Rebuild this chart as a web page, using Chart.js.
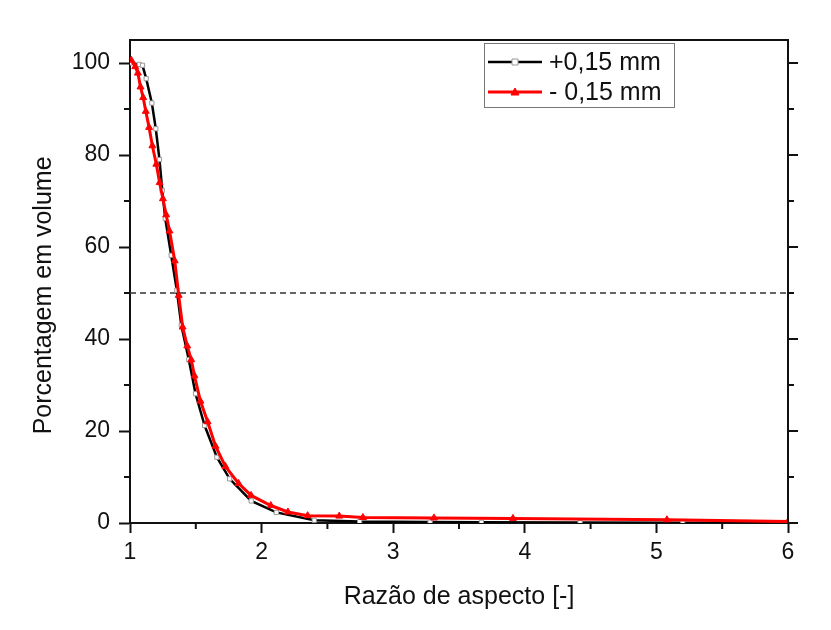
<!DOCTYPE html>
<html>
<head>
<meta charset="utf-8">
<script src="https://cdn.jsdelivr.net/npm/chart.js@4.4.0/dist/chart.umd.min.js"></script>
<style>
  body { margin: 0; background: #fff; }
  #wrap { width: 831px; height: 630px; position: relative; }
</style>
</head>
<body>
<div id="wrap"><canvas id="chart"></canvas></div>
<script>
// serie +0,15 mm (quadrados)
const plusX = [1.00, 1.07, 1.095, 1.123, 1.166, 1.196, 1.224, 1.245, 1.268, 1.313, 1.356, 1.39, 1.447, 1.498, 1.567, 1.66, 1.757, 1.921, 2.112, 2.40, 2.745, 3.28, 3.67, 4.42, 5.2, 6.0];
const plusY = [100, 99.7, 99.5, 96.6, 91.3, 85.7, 79.0, 72.3, 66.2, 58.2, 50.6, 43.0, 35.5, 28.1, 21.2, 14.3, 9.6, 4.8, 2.3, 0.6, 0.3, 0.2, 0.15, 0.1, 0.05, 0.0];

// serie - 0,15 mm (triangulos)
const minusX = [1.01, 1.04, 1.06, 1.08, 1.10, 1.12, 1.145, 1.17, 1.20, 1.225, 1.25, 1.275, 1.30, 1.34, 1.37, 1.40, 1.435, 1.465, 1.49, 1.535, 1.59, 1.65, 1.725, 1.825, 1.92, 2.07, 2.20, 2.35, 2.59, 2.77, 3.31, 3.91, 5.08, 6.0];
const minusY = [100.6, 99.2, 97.8, 94.8, 92.5, 89.5, 86, 82, 78, 74, 70.5, 67, 63.5, 57, 49.5, 42.6, 38.5, 35.5, 32, 26.5, 22, 16.7, 12.3, 8.6, 6.0, 3.8, 2.4, 1.6, 1.5, 1.2, 1.1, 1.0, 0.7, 0.3];

// linha de referencia (50 %)
const refX = [1, 6];
const refY = [50, 50];

const seriesLabels = ['+0,15 mm', '- 0,15 mm'];
const xTicks = [1, 2, 3, 4, 5, 6];
const yTicks = [0, 20, 40, 60, 80, 100];
const xMinor = [1.5, 2.5, 3.5, 4.5, 5.5];
const yMinor = [10, 30, 50, 70, 90];

const FONT = "'Liberation Sans', Arial, sans-serif";

function toPoints(xs, ys) {
    return xs.map((x, i) => ({ x: x, y: ys[i] }));
}

// moldura, ticks menores e legenda
const framePlugin = {
    id: 'frame',
    afterDatasetsDraw(chart) {
        const ctx = chart.ctx;
        const a = chart.chartArea;
        const xs = chart.scales.x;
        const ys = chart.scales.y;
        ctx.save();
        ctx.strokeStyle = '#111';
        ctx.lineWidth = 2;
        ctx.beginPath();
        ctx.moveTo(a.left, a.top);
        ctx.lineTo(a.right, a.top);
        ctx.lineTo(a.right, a.bottom);
        ctx.stroke();

        ctx.beginPath();
        // ticks do eixo direito
        yTicks.forEach(v => {
            const y = ys.getPixelForValue(v);
            ctx.moveTo(a.right, y);
            ctx.lineTo(a.right + 10, y);
        });
        yMinor.forEach(v => {
            const y = ys.getPixelForValue(v);
            ctx.moveTo(a.right, y);
            ctx.lineTo(a.right + 6, y);
            ctx.moveTo(a.left, y);
            ctx.lineTo(a.left - 6, y);
        });
        xMinor.forEach(v => {
            const x = xs.getPixelForValue(v);
            ctx.moveTo(x, a.bottom);
            ctx.lineTo(x, a.bottom + 6);
        });
        ctx.stroke();

        // legenda
        const bx = 484, by = 43, bw = 190, bh = 64;
        ctx.fillStyle = '#fff';
        ctx.fillRect(bx, by, bw, bh);
        ctx.strokeStyle = '#777';
        ctx.lineWidth = 1;
        ctx.strokeRect(bx + 0.5, by + 0.5, bw, bh);

        ctx.font = '25px ' + FONT;
        ctx.textBaseline = 'middle';
        ctx.textAlign = 'left';
        const rows = [62, 92];
        const ds = chart.data.datasets;
        [0, 1].forEach(i => {
            const d = ds.find(s => s.label === seriesLabels[i]);
            const y = rows[i];
            ctx.strokeStyle = d.borderColor;
            ctx.lineWidth = d.borderWidth;
            ctx.beginPath();
            ctx.moveTo(488, y);
            ctx.lineTo(542, y);
            ctx.stroke();
            ctx.fillStyle = d.pointBackgroundColor;
            ctx.strokeStyle = d.pointBorderColor;
            ctx.lineWidth = d.pointBorderWidth;
            ctx.beginPath();
            if (d.pointStyle === 'rect') {
                ctx.rect(515 - 3, y - 3, 6, 6);
            } else {
                ctx.moveTo(515, y - 4);
                ctx.lineTo(519, y + 3);
                ctx.lineTo(511, y + 3);
                ctx.closePath();
            }
            ctx.fill();
            ctx.stroke();
            ctx.fillStyle = '#111';
            ctx.fillText(seriesLabels[i], 549, y + 1);
        });
        ctx.restore();
    }
};

const ctx = document.getElementById('chart').getContext('2d');
const chart = new Chart(ctx, {
    type: 'line',
    data: {
        datasets: [
            {
                label: seriesLabels[1],
                data: toPoints(minusX, minusY),
                borderColor: '#f00',
                borderWidth: 3,
                pointStyle: 'triangle',
                pointRadius: 4,
                pointBackgroundColor: '#f00',
                pointBorderColor: '#f00',
                pointBorderWidth: 1,
                tension: 0,
                order: 0
            },
            {
                label: seriesLabels[0],
                data: toPoints(plusX, plusY),
                borderColor: '#000',
                borderWidth: 2.5,
                pointStyle: 'rect',
                pointRadius: 3,
                pointBackgroundColor: '#fff',
                pointBorderColor: '#999',
                pointBorderWidth: 1,
                tension: 0,
                order: 1
            },
            {
                label: 'ref',
                data: toPoints(refX, refY),
                borderColor: '#333',
                borderWidth: 1.5,
                borderDash: [6, 4],
                pointRadius: 0,
                order: 2
            }
        ]
    },
    options: {
        responsive: true,
        maintainAspectRatio: false,
        animation: false,
        layout: { padding: { top: 40, right: 43, left: 0, bottom: 0 } },
        plugins: {
            legend: { display: false },
            tooltip: { enabled: false }
        },
        scales: {
            x: {
                type: 'linear',
                min: 1,
                max: 6,
                afterFit: s => { s.height = 107; },
                afterBuildTicks: s => { s.ticks = xTicks.map(v => ({ value: v })); },
                grid: { drawOnChartArea: false, drawTicks: true, tickLength: 10, tickColor: '#111', tickWidth: 2 },
                border: { display: true, color: '#111', width: 2 },
                ticks: { color: '#111', padding: 6, maxRotation: 0, font: { family: FONT, size: 23 } },
                title: {
                    display: true,
                    text: 'Razão de aspecto [-]',
                    color: '#111',
                    padding: { top: 0, bottom: 18 },
                    font: { family: FONT, size: 25 }
                }
            },
            y: {
                min: 0,
                max: 105,
                afterFit: s => { s.width = 130; },
                afterBuildTicks: s => { s.ticks = yTicks.map(v => ({ value: v })); },
                grid: { drawOnChartArea: false, drawTicks: true, tickLength: 11, tickColor: '#111', tickWidth: 2 },
                border: { display: true, color: '#111', width: 2 },
                ticks: { color: '#111', padding: 9, font: { family: FONT, size: 23 } },
                title: {
                    display: true,
                    text: 'Porcentagem em volume    ',
                    color: '#111',
                    padding: { top: 29, bottom: 0 },
                    font: { family: FONT, size: 25 }
                }
            }
        }
    },
    plugins: [framePlugin]
});
</script>
</body>
</html>
